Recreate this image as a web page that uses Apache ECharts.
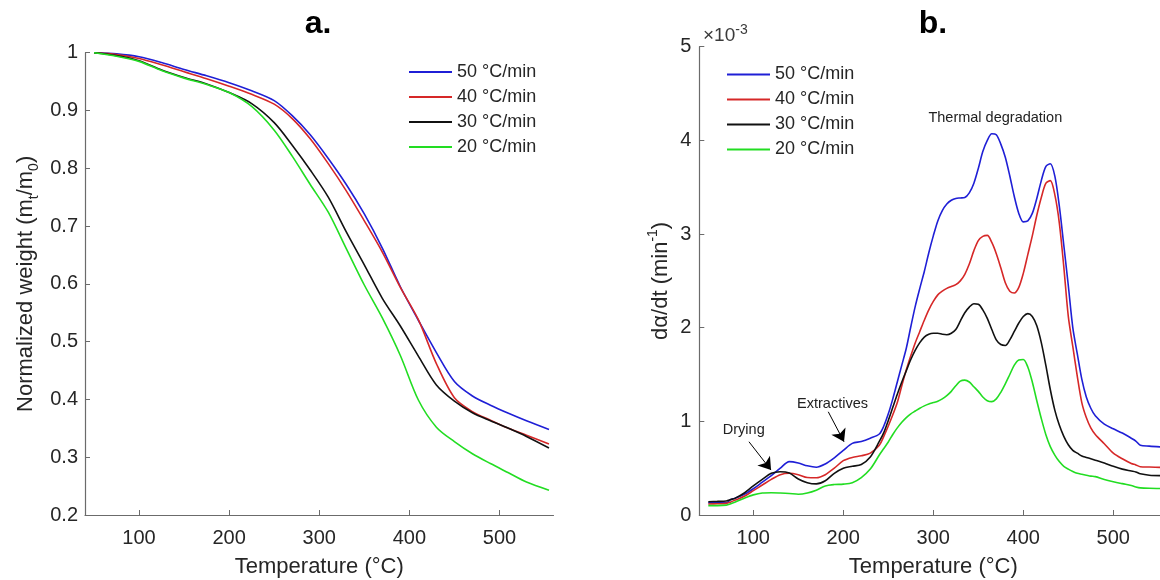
<!DOCTYPE html>
<html>
<head>
<meta charset="utf-8">
<title>TGA / DTG curves</title>
<script src="https://cdn.jsdelivr.net/npm/echarts@6/dist/echarts.min.js"></script>
<style>
	html, body { margin: 0; padding: 0; background: #fff; }
	#chart { width: 1160px; height: 580px; }
</style>
</head>
<body>
<div id="chart"></div>
<script>
// heating rates (legend order)
var rateNames = ['50 °C/min', '40 °C/min', '30 °C/min', '20 °C/min'];
var rateColors = ['#1f1fd6', '#d62828', '#111111', '#22dd22'];

// panel a: normalized weight mt/m0
var tempA = [50, 75, 100, 125, 150, 175, 200, 225, 250, 270, 290, 310, 330, 350, 370, 390, 410, 430, 450, 470, 490, 510, 530, 555];
var weight50 = [1.000, 0.998, 0.993, 0.983, 0.971, 0.960, 0.948, 0.934, 0.917, 0.891, 0.858, 0.817, 0.772, 0.721, 0.662, 0.595, 0.537, 0.481, 0.431, 0.406, 0.390, 0.376, 0.363, 0.348];
var weight40 = [1.000, 0.997, 0.990, 0.979, 0.967, 0.955, 0.942, 0.928, 0.911, 0.886, 0.851, 0.808, 0.761, 0.709, 0.655, 0.594, 0.538, 0.462, 0.403, 0.379, 0.364, 0.350, 0.338, 0.323];
var weight30 = [1.000, 0.995, 0.986, 0.970, 0.957, 0.946, 0.931, 0.912, 0.879, 0.840, 0.797, 0.750, 0.690, 0.633, 0.575, 0.527, 0.475, 0.425, 0.397, 0.377, 0.363, 0.350, 0.336, 0.316];
var weight20 = [1.000, 0.994, 0.985, 0.969, 0.956, 0.945, 0.931, 0.907, 0.866, 0.821, 0.772, 0.724, 0.661, 0.598, 0.541, 0.476, 0.399, 0.352, 0.327, 0.306, 0.289, 0.273, 0.257, 0.243];

// panel b: dα/dt, in units of 1e-3 min^-1
var tempB = [50, 60, 70, 75, 80, 90, 100, 110, 120, 130, 140, 150, 160, 170, 180, 190, 200, 210, 220, 230, 240,
	245, 250, 255, 260, 265, 270, 275, 280, 285, 290, 295, 300, 305, 310, 315, 320, 325, 330, 335, 340, 345, 350, 355, 360,
	365, 370, 375, 380, 385, 390, 395, 400, 405, 410, 415, 420, 425, 430, 435, 440, 445, 450, 455, 460, 465, 470, 475, 480,
	490, 500, 510, 520, 525, 530, 540, 555];
var dadt50 = [0.13, 0.13, 0.13, 0.165, 0.18, 0.22, 0.28, 0.35, 0.42, 0.50, 0.57, 0.555, 0.525, 0.51, 0.545, 0.61, 0.69, 0.765, 0.785, 0.82, 0.865,
	0.95, 1.08, 1.24, 1.42, 1.60, 1.78, 2.01, 2.23, 2.42, 2.60, 2.80, 2.98, 3.14, 3.25, 3.32, 3.36, 3.38, 3.385, 3.39, 3.44, 3.54, 3.70, 3.88, 4.00,
	4.07, 4.06, 3.96, 3.82, 3.62, 3.40, 3.22, 3.13, 3.14, 3.22, 3.38, 3.57, 3.72, 3.75, 3.62, 3.30, 2.88, 2.45, 2.00, 1.72, 1.45, 1.26, 1.14, 1.06,
	0.97, 0.92, 0.875, 0.82, 0.79, 0.745, 0.735, 0.725];
var dadt40 = [0.117, 0.12, 0.124, 0.14, 0.16, 0.20, 0.26, 0.32, 0.38, 0.43, 0.445, 0.43, 0.40, 0.398, 0.43, 0.50, 0.58, 0.615, 0.632, 0.66, 0.745,
	0.84, 0.95, 1.07, 1.20, 1.38, 1.55, 1.70, 1.84, 1.96, 2.08, 2.19, 2.28, 2.35, 2.39, 2.42, 2.44, 2.46, 2.50, 2.57, 2.68, 2.82, 2.93, 2.975, 2.985,
	2.91, 2.79, 2.64, 2.48, 2.39, 2.37, 2.43, 2.58, 2.78, 2.98, 3.20, 3.39, 3.54, 3.57, 3.42, 3.12, 2.65, 2.12, 1.80, 1.48, 1.20, 1.04, 0.93, 0.86,
	0.76, 0.66, 0.60, 0.55, 0.535, 0.515, 0.512, 0.508];
var dadt30 = [0.142, 0.145, 0.15, 0.165, 0.18, 0.235, 0.31, 0.38, 0.445, 0.462, 0.448, 0.385, 0.345, 0.332, 0.365, 0.445, 0.50, 0.52, 0.54, 0.62, 0.785,
	0.88, 1.01, 1.15, 1.29, 1.42, 1.54, 1.66, 1.76, 1.84, 1.90, 1.93, 1.94, 1.94, 1.93, 1.925, 1.94, 1.98, 2.07, 2.16, 2.22, 2.255, 2.25, 2.19, 2.10,
	1.98, 1.87, 1.82, 1.81, 1.87, 1.96, 2.05, 2.12, 2.15, 2.12, 2.02, 1.84, 1.60, 1.34, 1.12, 0.96, 0.84, 0.75, 0.69, 0.66, 0.63, 0.615, 0.60, 0.585,
	0.555, 0.52, 0.49, 0.47, 0.46, 0.44, 0.425, 0.42];
var dadt20 = [0.10, 0.10, 0.105, 0.12, 0.14, 0.18, 0.215, 0.235, 0.238, 0.235, 0.23, 0.222, 0.235, 0.265, 0.31, 0.325, 0.33, 0.345, 0.40, 0.49, 0.64,
	0.71, 0.78, 0.86, 0.93, 0.99, 1.04, 1.08, 1.11, 1.14, 1.165, 1.185, 1.20, 1.215, 1.24, 1.275, 1.32, 1.38, 1.43, 1.44, 1.42, 1.37, 1.32, 1.26, 1.22,
	1.21, 1.24, 1.31, 1.40, 1.50, 1.60, 1.655, 1.66, 1.58, 1.42, 1.22, 1.03, 0.86, 0.73, 0.64, 0.57, 0.52, 0.49, 0.465, 0.445, 0.435, 0.425, 0.415, 0.41,
	0.38, 0.356, 0.335, 0.315, 0.30, 0.29, 0.285, 0.283];

// axis tick labels
var tempTicks = [100, 200, 300, 400, 500];

var font = '"Liberation Sans", Arial, Helvetica, sans-serif';
var textColor = '#262626';
var axisColor = '#6b6b6b';

var dtgChart = {
	/**
	 * [x, y] pairs for a value axis
	 */
	pairs : function(xs, ys) {
		var out = [];
		for (var i = 0; i < xs.length; i++) {
			out.push([xs[i], ys[i]]);
		}
		return out;
	},

	/**
	 * temperature axis, same for both panels
	 */
	tempAxis : function(gridIndex) {
		return {
			type: 'value',
			gridIndex: gridIndex,
			min: 40,
			max: 560,
			name: 'Temperature (°C)',
			nameLocation: 'middle',
			nameGap: 41,
			nameTextStyle: { fontSize: 22, color: textColor, fontFamily: font },
			axisLine: { show: true, lineStyle: { color: axisColor, width: 1.2 } },
			axisTick: { show: true, inside: true, length: 5, customValues: tempTicks, lineStyle: { color: axisColor } },
			axisLabel: { customValues: tempTicks, margin: 13, fontSize: 20, color: textColor, fontFamily: font },
			splitLine: { show: false }
		};
	},

	lineSeries : function(k, gridIndex, xs, ys) {
		return {
			name: rateNames[k],
			type: 'line',
			xAxisIndex: gridIndex,
			yAxisIndex: gridIndex,
			data: dtgChart.pairs(xs, ys),
			symbol: 'none',
			smooth: 0.3,
			lineStyle: { color: rateColors[k], width: 1.6 },
			itemStyle: { color: rateColors[k] }
		};
	},

	// legend: plain line sample + text
	legend : function(left, top) {
		return {
			data: rateNames,
			orient: 'vertical',
			left: left,
			top: top,
			padding: 0,
			icon: 'rect',
			itemWidth: 43,
			itemHeight: 2,
			itemGap: 7,
			selectedMode: false,
			textStyle: { fontSize: 18, color: textColor, fontFamily: font }
		};
	},

	showChart : function() {
		var myChart = echarts.init(document.getElementById('chart'), null, { renderer: 'canvas' });

		var seriesList = [
			dtgChart.lineSeries(0, 0, tempA, weight50),
			dtgChart.lineSeries(1, 0, tempA, weight40),
			dtgChart.lineSeries(2, 0, tempA, weight30),
			dtgChart.lineSeries(3, 0, tempA, weight20),
			dtgChart.lineSeries(0, 1, tempB, dadt50),
			dtgChart.lineSeries(1, 1, tempB, dadt40),
			dtgChart.lineSeries(2, 1, tempB, dadt30),
			dtgChart.lineSeries(3, 1, tempB, dadt20)
		];

		// annotations of panel b (text + arrows), in data coordinates
		seriesList[6].markPoint = {
			silent: true,
			symbol: 'circle',
			symbolSize: 1,
			itemStyle: { color: 'rgba(0,0,0,0)' },
			label: { show: true, position: 'inside', formatter: '{b}', color: '#222', fontSize: 14.5, fontFamily: font },
			data: [
				{ name: 'Drying', coord: [89.4, 0.907] },
				{ name: 'Extractives', coord: [188, 1.185] },
				{ name: 'Thermal degradation', coord: [368.9, 4.234] }
			]
		};
		seriesList[6].markLine = {
			silent: true,
			symbol: ['none', 'arrow'],
			symbolSize: 12,
			lineStyle: { color: '#000', width: 1, type: 'solid' },
			label: { show: false },
			data: [
				[{ coord: [95.2, 0.782] }, { coord: [119.7, 0.48] }],
				[{ coord: [183.3, 1.102] }, { coord: [200.8, 0.782] }]
			]
		};

		var option = {
			animation: false,
			backgroundColor: '#fff',
			// fixed plot boxes (no automatic shrinking to fit labels)
			grid: [
				{ left: 85, top: 52.7, width: 468.5, height: 462.3, outerBoundsMode: 'none', containLabel: false },
				{ left: 699.3, top: 46.7, width: 468, height: 468.3, outerBoundsMode: 'none', containLabel: false }
			],
			legend: [dtgChart.legend(409, 63), dtgChart.legend(727, 65.5)],
			xAxis: [dtgChart.tempAxis(0), dtgChart.tempAxis(1)],
			yAxis: [
				{
					type: 'value',
					gridIndex: 0,
					min: 0.2,
					max: 1,
					interval: 0.1,
					name: 'Normalized weight (m{sub|t}/m{sub|0})',
					nameLocation: 'middle',
					nameGap: 44,
					nameTextStyle: {
						fontSize: 22, lineHeight: 30, color: textColor, fontFamily: font,
						rich: { sub: { fontSize: 14, lineHeight: 14, verticalAlign: 'bottom', color: textColor, fontFamily: font } }
					},
					axisLine: { show: true, lineStyle: { color: axisColor, width: 1.2 } },
					axisTick: { show: true, inside: true, length: 5, lineStyle: { color: axisColor } },
					axisLabel: { margin: 7, fontSize: 20, color: textColor, fontFamily: font },
					splitLine: { show: false }
				},
				{
					type: 'value',
					gridIndex: 1,
					min: 0,
					max: 5,
					interval: 1,
					name: 'dα/dt (min{sup|-1})',
					nameLocation: 'middle',
					nameGap: 15,
					nameTextStyle: {
						fontSize: 22, lineHeight: 30, color: textColor, fontFamily: font,
						rich: { sup: { fontSize: 14, lineHeight: 14, verticalAlign: 'top', color: textColor, fontFamily: font } }
					},
					axisLine: { show: true, lineStyle: { color: axisColor, width: 1.2 } },
					axisTick: { show: true, inside: true, length: 5, lineStyle: { color: axisColor } },
					axisLabel: { margin: 8, fontSize: 20, color: textColor, fontFamily: font },
					splitLine: { show: false }
				}
			],
			graphic: [
				{ type: 'text', x: 318, y: 24, style: { text: 'a.', align: 'center', verticalAlign: 'middle', fontSize: 32, fontWeight: 'bold', fontFamily: font, fill: '#000' } },
				{ type: 'text', x: 933, y: 24, style: { text: 'b.', align: 'center', verticalAlign: 'middle', fontSize: 32, fontWeight: 'bold', fontFamily: font, fill: '#000' } },
				{
					type: 'text', x: 703, y: 36,
					style: {
						text: '×10{sup|-3}', align: 'left', verticalAlign: 'middle',
						fontSize: 19, lineHeight: 26, fontFamily: font, fill: '#3a3a3a',
						rich: { sup: { fontSize: 14, lineHeight: 10, verticalAlign: 'top', fontFamily: font, fill: '#3a3a3a' } }
					}
				}
			],
			series: seriesList
		};
		myChart.setOption(option);
	}
};

dtgChart.showChart();
</script>
</body>
</html>
